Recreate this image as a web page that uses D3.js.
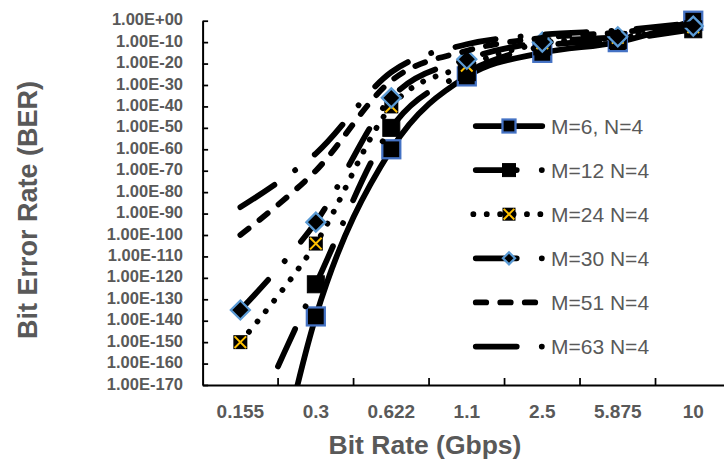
<!DOCTYPE html>
<html><head><meta charset="utf-8">
<script src="https://cdn.jsdelivr.net/npm/d3@7"></script>
<style>body{margin:0;background:#fff;} svg{display:block;}</style>
</head><body>
<svg id="chart" width="724" height="461"></svg>
<script>
const categories = ["0.155", "0.3", "0.622", "1.1", "2.5", "5.875", "10"];
const seriesNames = ["M=6, N=4", "M=12 N=4", "M=24 N=4", "M=30 N=4", "M=51 N=4", "M=63 N=4"];
const berM6  = [1e-290, 1e-138, 1e-60, 1e-26, 1e-15, 1e-10, 1e0];
const berM12 = [1e-200, 1e-123, 1e-50, 1e-24, 1e-12, 1e-9, 1e-4];
const berM24 = [1e-150, 1e-104, 1e-40, 1e-21, 3e-11, 1e-8, 1e-3];
const berM30 = [1e-135, 1e-94, 1e-36, 1e-18, 1e-10, 3e-8, 3e-3];
const berM51 = [1e-100, 1e-70, 1e-28, 1e-14, 1e-8, 3e-6, 3e-2];
const berM63 = [1e-87, 1e-62, 1e-24, 1e-11, 3e-7, 3e-5, 1e-1];
const yTickExponents = [0, -10, -20, -30, -40, -50, -60, -70, -80, -90, -100, -110, -120, -130, -140, -150, -160, -170];

const seriesValues = [berM6, berM12, berM24, berM30, berM51, berM63];
const styles = [
  {dash: null, marker: "square"},
  {dash: "41,25,0.1,25", marker: "blacksquare"},
  {dash: "0.1,13.3", marker: "xsquare"},
  {dash: "41,25,0.1,25", marker: "diamond"},
  {dash: "10.5,14", marker: null},
  {dash: "41,25,0.1,25", marker: null}
];

const FONT = "'Liberation Sans', Arial, sans-serif";
const GRAY = "#595959";
const LW = 5.75;

const svg = d3.select("#chart");
const x = d3.scaleBand().domain(categories).range([202.6, 731]);
const y = d3.scaleLog().domain([1e-170, 1]).range([385, 20.7]);
const cx = c => x(c) + x.bandwidth() / 2;

svg.append("defs").append("clipPath").attr("id", "plotclip")
  .append("rect").attr("x", 202.6).attr("y", 3).attr("width", 530).attr("height", 382);

function drawMarker(g, type, px, py, s) {
  if (type === "square") {
    g.append("rect").attr("x", px - s/2).attr("y", py - s/2).attr("width", s).attr("height", s)
      .attr("fill", "#000").attr("stroke", "#4472C4").attr("stroke-width", 2.25);
  } else if (type === "blacksquare") {
    g.append("rect").attr("x", px - s/2).attr("y", py - s/2).attr("width", s).attr("height", s)
      .attr("fill", "#000").attr("stroke", "#000").attr("stroke-width", 1);
  } else if (type === "xsquare") {
    g.append("rect").attr("x", px - s/2).attr("y", py - s/2).attr("width", s).attr("height", s)
      .attr("fill", "#000");
    const d = s/2 - 1.2;
    g.append("path").attr("d", `M${px-d},${py-d}L${px+d},${py+d}M${px+d},${py-d}L${px-d},${py+d}`)
      .attr("stroke", "#FFC000").attr("stroke-width", 2).attr("fill", "none");
  } else if (type === "diamond") {
    const r = s/2;
    g.append("path").attr("d", `M${px},${py-r}L${px+r},${py}L${px},${py+r}L${px-r},${py}Z`)
      .attr("fill", "#000").attr("stroke", "#5B9BD5").attr("stroke-width", 2.25);
  }
}
const plotMarkerSize = {square: 18, blacksquare: 17, xsquare: 14, diamond: 19};
const legendMarkerSize = {square: 13, blacksquare: 13, xsquare: 13, diamond: 12};

// axes
const yAxis = d3.axisLeft(y)
  .tickValues(yTickExponents.map(e => Math.pow(10, e)))
  .tickFormat((v, i) => {
    const e = yTickExponents[i];
    return "1.00E" + (e < 0 ? "-" : "+") + (Math.abs(e) < 10 ? "0" : "") + Math.abs(e);
  })
  .tickSizeInner(-5.5).tickSizeOuter(0).tickPadding(19.6);
const gy = svg.append("g").attr("transform", "translate(202.6,0)").call(yAxis);
gy.select(".domain").attr("stroke", "#000").attr("stroke-width", 2);
gy.selectAll(".tick line").attr("stroke", "#000").attr("stroke-width", 1.75);
gy.selectAll(".tick text").attr("fill", GRAY).attr("font-family", FONT)
  .attr("font-size", 16.5).attr("font-weight", "bold").attr("dy", "0.25em");

const xAxis = d3.axisBottom(x).tickSize(0).tickPadding(20);
const gx = svg.append("g").attr("transform", "translate(0,385)").call(xAxis);
gx.select(".domain").attr("stroke", "#000").attr("stroke-width", 2);
gx.selectAll(".tick text").attr("fill", GRAY).attr("font-family", FONT)
  .attr("font-size", 19).attr("font-weight", "bold").attr("y", 32.5).attr("dy", "0");
// category boundary ticks (inward)
gx.selectAll(".bticks").data(categories.slice(1)).enter().append("line")
  .attr("x1", c => x(c)).attr("x2", c => x(c)).attr("y1", 0).attr("y2", -7)
  .attr("stroke", "#000").attr("stroke-width", 1.75);

// titles
svg.append("text").attr("transform", "translate(37,210) rotate(-90)")
  .attr("text-anchor", "middle").attr("font-family", FONT).attr("font-size", 27)
  .attr("font-weight", "bold").attr("fill", GRAY).text("Bit Error Rate (BER)");
svg.append("text").attr("x", 425).attr("y", 454)
  .attr("text-anchor", "middle").attr("font-family", FONT).attr("font-size", 26.5)
  .attr("font-weight", "bold").attr("fill", GRAY).text("Bit Rate (Gbps)");

// series
const plot = svg.append("g").attr("clip-path", "url(#plotclip)");
const line = d3.line().x((d, i) => cx(categories[i])).y(d => y(d)).curve(d3.curveCatmullRom.alpha(0));
seriesValues.forEach((vals, si) => {
  const st = styles[si];
  const g = plot.append("g");
  const p = g.append("path").attr("d", line(vals)).attr("fill", "none")
    .attr("stroke", "#000").attr("stroke-width", LW).attr("stroke-linecap", "round").attr("stroke-linejoin", "round");
  if (st.dash) p.attr("stroke-dasharray", st.dash);
  if (st.marker) {
    vals.forEach((v, i) => {
      if (v >= 1e-170) drawMarker(g, st.marker, cx(categories[i]), y(v), plotMarkerSize[st.marker]);
    });
  }
});

// legend
const leg = svg.append("g");
seriesNames.forEach((name, i) => {
  const st = styles[i];
  const ly = 126 + i * 44.1;
  const g = leg.append("g");
  const l = g.append("line").attr("x1", st.dash === "0.1,13.3" ? 473.3 : 475.75).attr("x2", 542.25)
    .attr("y1", ly).attr("y2", ly).attr("stroke", "#000").attr("stroke-width", LW).attr("stroke-linecap", "round");
  if (st.dash) l.attr("stroke-dasharray", st.dash);
  if (st.marker) drawMarker(g, st.marker, 509, ly, legendMarkerSize[st.marker]);
  g.append("text").attr("x", 551).attr("y", ly).attr("dy", "0.36em")
    .attr("font-family", FONT).attr("font-size", 21).attr("fill", GRAY).text(name);
});
</script>
</body></html>
